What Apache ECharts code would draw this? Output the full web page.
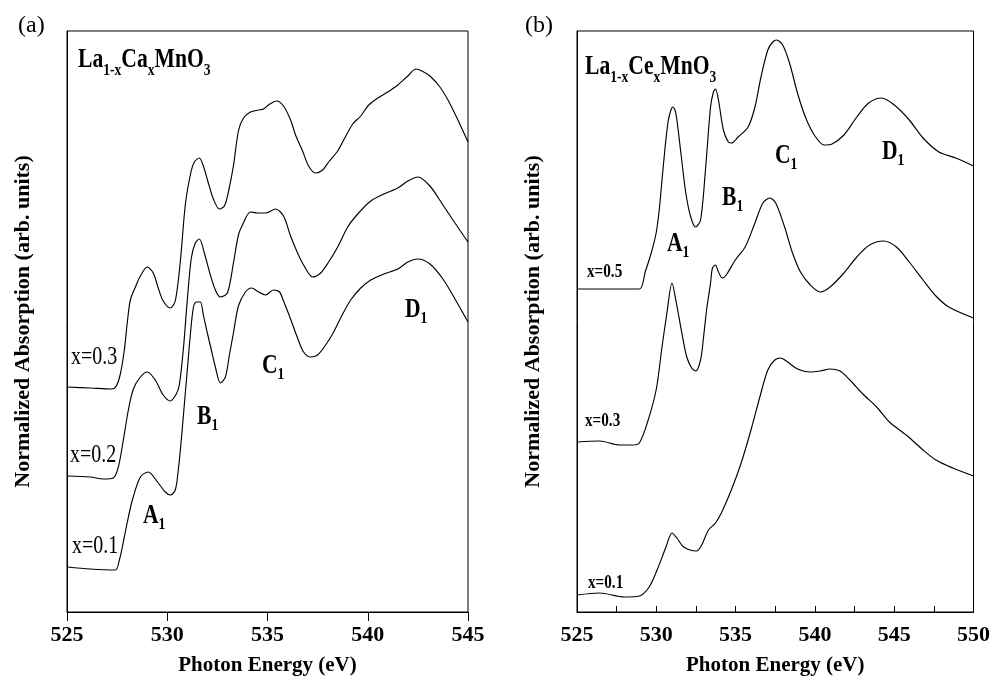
<!DOCTYPE html>
<html>
<head>
<meta charset="utf-8">
<script src="https://cdn.jsdelivr.net/npm/echarts/dist/echarts.min.js"></script>
<style>html,body{margin:0;padding:0;background:#fff}#c{width:993px;height:685px}</style>
</head>
<body>
<div id="c"></div>
<script>
// ---------- data (photon energy in eV, normalized absorption in arb. units) ----------
// Panel (a): La1-xCaxMnO3
const eA03 = [525.0,526.16,527.24,527.46,527.66,527.86,528.01,528.16,528.41,528.66,529.0,529.3,529.55,529.8,530.15,530.4,530.65,530.9,531.15,531.35,531.6,531.8,532.05,532.3,532.6,532.85,533.05,533.3,533.55,533.8,534.15,534.55,534.8,535.05,535.45,535.8,536.15,536.4,536.75,537.05,537.4,537.75,538.05,538.5,538.8,539.25,539.65,540.05,540.5,541.0,541.5,542.0,542.4,542.7,543.1,543.6,544.0,544.45,545.0];
const vA03 = [2.25,2.24,2.23,2.26,2.38,2.62,2.90,3.12,3.25,3.36,3.45,3.39,3.24,3.11,3.04,3.11,3.50,4.07,4.37,4.50,4.54,4.46,4.29,4.13,4.03,4.06,4.20,4.46,4.81,4.94,5.00,5.02,5.03,5.07,5.11,5.06,4.92,4.77,4.61,4.46,4.39,4.42,4.50,4.61,4.72,4.88,4.96,5.07,5.14,5.20,5.27,5.36,5.43,5.41,5.36,5.25,5.12,4.94,4.70];

const eA02 = [525.0,526.16,526.81,527.31,527.56,527.81,528.06,528.31,528.66,529.0,529.4,529.8,530.15,530.45,530.6,530.8,531.0,531.2,531.4,531.6,531.85,532.15,532.4,532.65,533.0,533.3,533.55,533.75,534.15,534.5,534.9,535.4,535.8,536.15,536.5,536.8,537.25,537.65,538.05,538.5,539.0,539.5,540.15,540.8,541.5,542.0,542.5,543.1,543.75,544.35,545.0];
const vA02 = [1.36,1.35,1.33,1.34,1.45,1.72,2.02,2.23,2.35,2.40,2.32,2.17,2.11,2.18,2.27,2.62,3.12,3.54,3.69,3.73,3.59,3.37,3.22,3.15,3.19,3.49,3.77,3.87,4.00,3.99,3.99,4.03,3.96,3.76,3.59,3.47,3.35,3.39,3.50,3.65,3.85,3.98,4.11,4.18,4.24,4.31,4.35,4.26,4.07,3.89,3.70];

const eA01 = [525.0,526.16,527.41,527.61,527.76,528.01,528.26,528.66,529.05,529.55,529.9,530.15,530.4,530.55,530.7,530.85,531.0,531.15,531.3,531.45,531.65,531.8,532.0,532.2,532.4,532.65,532.9,533.1,533.3,533.55,533.9,534.2,534.55,534.9,535.3,535.6,535.8,536.15,536.5,536.8,537.15,537.5,537.9,538.3,538.75,539.15,539.65,540.15,540.8,541.5,542.0,542.5,543.1,543.75,544.35,545.0];
const vA01 = [0.45,0.43,0.42,0.52,0.65,0.90,1.12,1.35,1.40,1.29,1.20,1.17,1.22,1.42,1.72,2.07,2.42,2.77,3.04,3.10,3.10,2.97,2.79,2.62,2.45,2.29,2.35,2.57,2.79,3.06,3.20,3.24,3.20,3.17,3.22,3.20,3.11,2.93,2.74,2.60,2.55,2.57,2.67,2.80,2.98,3.12,3.24,3.32,3.38,3.43,3.50,3.53,3.48,3.33,3.13,2.90];

// Panel (b): La1-xCexMnO3
const eB05 = [525.0,527.06,528.93,529.3,529.68,529.99,530.17,530.36,530.55,530.74,530.92,531.05,531.23,531.55,531.86,532.17,532.48,532.79,533.1,533.42,533.6,533.73,533.92,534.23,534.54,534.73,535.16,535.79,536.22,536.6,537.03,537.34,537.59,537.97,538.4,538.9,539.4,539.96,540.59,541.08,541.83,542.64,543.39,544.2,545.01,545.95,546.82,547.82,548.88,550.0];
const vB05 = [3.23,3.23,3.23,3.40,3.59,3.79,4.00,4.32,4.64,4.90,5.02,5.05,4.99,4.59,4.19,3.95,3.85,3.92,4.42,5.05,5.20,5.23,5.12,4.82,4.70,4.69,4.75,4.85,5.05,5.35,5.62,5.70,5.72,5.67,5.49,5.19,4.95,4.77,4.67,4.68,4.77,4.95,5.09,5.14,5.07,4.92,4.74,4.60,4.54,4.46];

const eB03 = [525.0,526.43,527.68,528.49,528.93,529.43,529.99,530.36,530.67,530.99,531.23,531.61,531.92,532.23,532.48,532.79,532.98,533.17,533.42,533.54,533.73,533.92,534.16,534.41,534.98,535.6,536.22,536.72,537.16,537.53,538.09,538.59,539.09,539.71,540.34,540.96,541.83,542.64,543.45,544.33,545.14,545.95,546.82,547.63,548.44,550.0];
const vB03 = [1.70,1.71,1.67,1.67,1.69,1.89,2.22,2.65,2.99,3.29,3.12,2.79,2.55,2.44,2.41,2.52,2.75,3.02,3.29,3.44,3.47,3.40,3.34,3.37,3.52,3.65,3.89,4.09,4.14,4.09,3.85,3.59,3.40,3.27,3.20,3.25,3.39,3.55,3.67,3.71,3.65,3.50,3.32,3.16,3.05,2.94];

const eB01 = [525.0,526.43,527.99,528.93,529.55,530.05,530.61,530.99,531.3,531.73,532.54,532.86,533.29,533.73,534.1,534.73,535.35,535.97,536.53,537.03,537.47,537.84,538.28,538.9,539.71,540.34,540.96,541.58,542.21,542.96,543.89,544.7,545.76,546.82,547.63,548.69,550.0];
const vB01 = [0.17,0.19,0.15,0.16,0.25,0.42,0.65,0.79,0.74,0.65,0.61,0.67,0.82,0.89,0.99,1.22,1.49,1.82,2.15,2.42,2.52,2.54,2.50,2.43,2.40,2.41,2.43,2.41,2.32,2.19,2.05,1.90,1.77,1.62,1.52,1.44,1.36];

// axis ranges / tick spacing
const xRangeA = [525, 545];
const xRangeB = [525, 550];
const tickStep = 5;
const yRange = [0, 5.81];

// texts
const panelTags = ['(a)', '(b)'];
const compA = ['La', '1-x', 'Ca', 'x', 'MnO', '3'];
const compB = ['La', '1-x', 'Ce', 'x', 'MnO', '3'];
const seriesNamesA = ['x=0.3', 'x=0.2', 'x=0.1'];
const seriesNamesB = ['x=0.5', 'x=0.3', 'x=0.1'];
const peakNames = ['A', 'B', 'C', 'D'];
const xName = 'Photon Energy (eV)';
const yName = 'Normalized Absorption (arb. units)';

// ---------- chart ----------
const FONT = '"Liberation Serif", "Times New Roman", Times, serif';
const zip = (xs, ys) => xs.map((x, i) => [x, ys[i]]);
const chart = echarts.init(document.getElementById('c'), null, { renderer: 'canvas' });

// main glyphs padded at the bottom; subscript tokens sit at the line bottom
const peakRich = {
  m: { fontSize: 27, fontWeight: 'bold', fontFamily: FONT, padding: [0, 0, 3, 0], fill: '#000' },
  s: { fontSize: 17, fontWeight: 'bold', fontFamily: FONT, verticalAlign: 'bottom', fill: '#000' }
};
const titleRich = {
  m: { fontSize: 27, fontWeight: 'bold', fontFamily: FONT, padding: [0, 0, 5, 0], fill: '#000' },
  s: { fontSize: 17, fontWeight: 'bold', fontFamily: FONT, verticalAlign: 'bottom', fill: '#000' }
};
function richText(x, y, text, rich) {
  return { type: 'text', x: x, y: y, scaleX: 0.8, silent: true,
    style: { text: text, rich: rich, fill: '#000', align: 'left', verticalAlign: 'middle', fontFamily: FONT } };
}
function plainText(x, y, text, size, weight, sx) {
  return { type: 'text', x: x, y: y, scaleX: sx, silent: true,
    style: { text: text, fill: '#000', align: 'left', verticalAlign: 'middle', fontFamily: FONT, fontSize: size, fontWeight: weight } };
}
const comp = parts => parts.map((p, i) => (i % 2 === 0 ? '{m|' + p + '}' : '{s|' + p + '}')).join('');
const peak = n => '{m|' + n + '}{s|1}';

function xAxisCfg(idx, range, inside) {
  return {
    type: 'value', gridIndex: idx, min: range[0], max: range[1], interval: tickStep,
    axisLine: { show: true, lineStyle: { color: '#000', width: 1 } },
    axisTick: { show: true, inside: inside, length: inside ? 6 : 9, lineStyle: { color: '#000', width: 1 } },
    minorTick: { show: inside, splitNumber: 2, length: 6, lineStyle: { color: '#000', width: 1 } },
    splitLine: { show: false },
    axisLabel: { show: true, margin: 12, color: '#000', fontFamily: FONT, fontWeight: 'bold', fontSize: 22 },
    name: xName, nameLocation: 'middle', nameGap: 43,
    nameTextStyle: { color: '#000', fontFamily: FONT, fontWeight: 'bold', fontSize: 21 }
  };
}
function yAxisCfg(idx) {
  return {
    type: 'value', gridIndex: idx, min: yRange[0], max: yRange[1],
    axisLine: { show: true, lineStyle: { color: '#000', width: 1 } },
    axisTick: { show: false }, axisLabel: { show: false }, splitLine: { show: false },
    name: yName, nameLocation: 'middle', nameGap: 33,
    nameTextStyle: { color: '#000', fontFamily: FONT, fontWeight: 'bold', fontSize: 22 }
  };
}
function lineSeries(idx, name, xs, ys) {
  return {
    type: 'line', name: name, xAxisIndex: idx, yAxisIndex: idx, data: zip(xs, ys),
    smooth: 0.3, showSymbol: false, silent: true,
    lineStyle: { color: '#000', width: 1.15 }
  };
}

const option = {
  animation: false,
  backgroundColor: '#fff',
  grid: [
    { left: 67, right: 525, top: 31, bottom: 73, show: true, borderColor: '#000', borderWidth: 1 },
    { left: 577, right: 15, top: 31, bottom: 73, show: true, borderColor: '#000', borderWidth: 1 }
  ],
  xAxis: [xAxisCfg(0, xRangeA, false), xAxisCfg(1, xRangeB, true)],
  yAxis: [yAxisCfg(0), yAxisCfg(1)],
  series: [
    lineSeries(0, seriesNamesA[0], eA03, vA03),
    lineSeries(0, seriesNamesA[1], eA02, vA02),
    lineSeries(0, seriesNamesA[2], eA01, vA01),
    lineSeries(1, seriesNamesB[0], eB05, vB05),
    lineSeries(1, seriesNamesB[1], eB03, vB03),
    lineSeries(1, seriesNamesB[2], eB01, vB01)
  ],
  graphic: [
    plainText(18, 26, panelTags[0], 24, 'normal', 1),
    plainText(525, 26, panelTags[1], 24, 'normal', 1),
    richText(78, 63, comp(compA), titleRich),
    richText(585, 70, comp(compB), titleRich),
    // panel (a) composition labels
    plainText(71, 357, seriesNamesA[0], 25, 'normal', 0.8),
    plainText(70, 455, seriesNamesA[1], 25, 'normal', 0.8),
    plainText(72, 546, seriesNamesA[2], 25, 'normal', 0.8),
    // panel (b) composition labels
    plainText(587, 272, seriesNamesB[0], 19, 'bold', 0.8),
    plainText(585, 421, seriesNamesB[1], 19, 'bold', 0.8),
    plainText(588, 583, seriesNamesB[2], 19, 'bold', 0.8),
    // feature labels panel (a)
    richText(143, 518, peak(peakNames[0]), peakRich),
    richText(197, 419, peak(peakNames[1]), peakRich),
    richText(262, 368, peak(peakNames[2]), peakRich),
    richText(405, 312, peak(peakNames[3]), peakRich),
    // feature labels panel (b)
    richText(667, 246, peak(peakNames[0]), peakRich),
    richText(722, 200, peak(peakNames[1]), peakRich),
    richText(775, 158, peak(peakNames[2]), peakRich),
    richText(882, 154, peak(peakNames[3]), peakRich)
  ]
};
chart.setOption(option);
</script>
</body>
</html>
